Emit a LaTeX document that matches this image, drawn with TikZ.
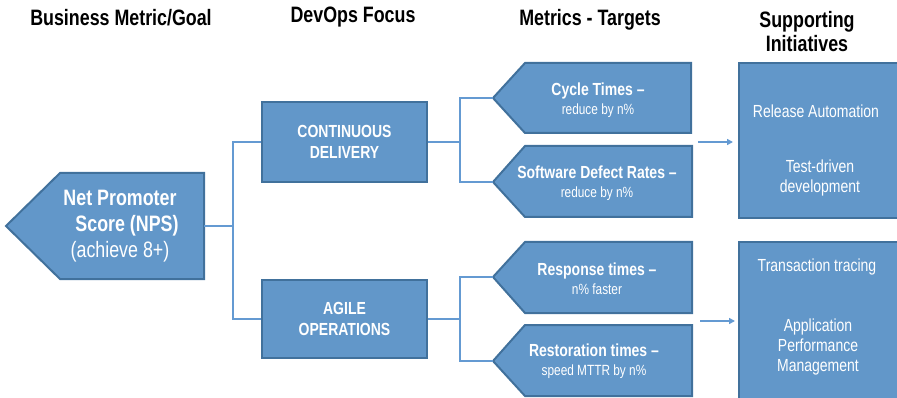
\documentclass[tikz,border=0pt]{standalone}
\usepackage{fontspec}
\setmainfont{Liberation Sans}[FakeStretch=0.8]
\usetikzlibrary{arrows.meta}

\definecolor{boxblue}{RGB}{98,151,201}
\definecolor{boxedge}{RGB}{65,113,156}
\definecolor{linkblue}{RGB}{100,154,210}

\tikzset{
  box/.style={fill=boxblue, draw=boxedge, line width=2pt},
  link/.style={draw=linkblue, line width=2pt},
  heading/.style={align=center, font=\bfseries\fontsize{22.3}{24}\selectfont},
  boxtext/.style={align=center, text=white, inner sep=0pt},
}

\begin{document}
\begin{tikzpicture}[x=1pt, y=-1pt]
  \useasboundingbox (0, 0) rectangle (897, 398);
  % draw fills so lines sit on top of them
  \draw [box] (60, 173) -- (204, 173) -- (204, 279) -- (60, 279) -- (6, 226) -- cycle;
  \draw [box] (525, 63) -- (691, 63) -- (691, 133) -- (525, 133) -- (493, 98) -- cycle;
  \draw [box] (525, 146) -- (692, 146) -- (692, 217) -- (525, 217) -- (493, 182) -- cycle;
  \draw [box] (525, 242) -- (692, 242) -- (692, 313) -- (525, 313) -- (493, 277) -- cycle;
  \draw [box] (525, 325) -- (692, 325) -- (692, 396) -- (525, 396) -- (493, 361) -- cycle;
  \node [box, minimum width=165pt, minimum height=80pt] (cd) at (344.5, 142) {};
  \node [box, minimum width=165pt, minimum height=78pt] (ao) at (344.5, 319) {};
  \node [box, minimum width=164pt, minimum height=155pt, anchor=north west] (sia) at (738, 62) {};
  \node [box, minimum width=164pt, minimum height=161pt, anchor=north west] (sib) at (738, 241) {};
  % ends of the arrow shapes
  \coordinate (npsEnd) at (204, 226);
  \coordinate (ctTip) at (493, 98);
  \coordinate (sdrTip) at (493, 182);
  \coordinate (rtTip) at (493, 277);
  \coordinate (restTip) at (493, 361);
  \coordinate (cdOut) at (698, 142);
  \coordinate (aoOut) at (700, 321);
  % Draw lines
  \draw [link] (npsEnd) -- ++(29, 0) |- (cd.west);
  \draw [link] (npsEnd) -- ++(29, 0) |- (ao.west);
  \draw [link] (cd.east) -- ++(32, 0) |- (ctTip);
  \draw [link] (cd.east) -- ++(32, 0) |- (sdrTip);
  \draw [link] (ao.east) -- ++(32, 0) |- (rtTip);
  \draw [link] (ao.east) -- ++(32, 0) |- (restTip);
  % Draw arrows to the initiatives
  \draw [link, arrows=-{Triangle[length=6pt, width=6pt]}] (cdOut) -- ([xshift=-5pt]sia.west |- cdOut);
  \draw [link, arrows=-{Triangle[length=6pt, width=6pt]}] (aoOut) -- ([xshift=-3pt]sib.west |- aoOut);
  % Add headings
  \node [heading] (goalHead) at (121, 18) {Business Metric/Goal};
  \node [heading] (focusHead) at (353, 17) {DevOps Focus};
  \node [heading] (metricHead) at (590, 20) {Metrics - Targets};
  \node [heading] (initHead) at (807, 32) {Supporting\\Initiatives};
  % Add labels
  \node [boxtext, font=\bfseries\fontsize{22.3}{26}\selectfont] (nps) at (120, 226)
    {Net Promoter\\\hspace*{14pt}Score (NPS)\\\mdseries(achieve 8+)};
  \node [boxtext, font=\bfseries\fontsize{17.5}{21}\selectfont] (cdText) at (cd) {CONTINUOUS\\DELIVERY};
  \node [boxtext, font=\bfseries\fontsize{17.5}{21}\selectfont] (aoText) at (ao) {AGILE\\OPERATIONS};
  \node [boxtext, font=\fontsize{14.8}{19}\selectfont] (ct) at (598, 100)
    {\bfseries\fontsize{17.5}{19}\selectfont Cycle Times --\\reduce by n\%};
  \node [boxtext, font=\fontsize{14.8}{19}\selectfont] (sdr) at (597, 183)
    {\bfseries\fontsize{17.5}{19}\selectfont Software Defect Rates --\\reduce by n\%};
  \node [boxtext, font=\fontsize{14.8}{19}\selectfont] (rt) at (597, 279)
    {\bfseries\fontsize{17.5}{19}\selectfont Response times --\\n\% faster};
  \node [boxtext, font=\fontsize{14.8}{19}\selectfont] (rest) at (594, 361)
    {\bfseries\fontsize{17.5}{19}\selectfont Restoration times --\\speed MTTR by n\%};
  \node [boxtext, font=\fontsize{17.5}{20}\selectfont] (relAuto) at (816, 111) {Release Automation};
  \node [boxtext, font=\fontsize{17.5}{20}\selectfont] (tdd) at (820, 178) {Test-driven\\development};
  \node [boxtext, font=\fontsize{17.5}{20}\selectfont] (trace) at (817, 267) {Transaction tracing};
  \node [boxtext, font=\fontsize{17.5}{20}\selectfont] (apm) at (818, 347) {Application\\Performance\\Management};
\end{tikzpicture}
\end{document}
